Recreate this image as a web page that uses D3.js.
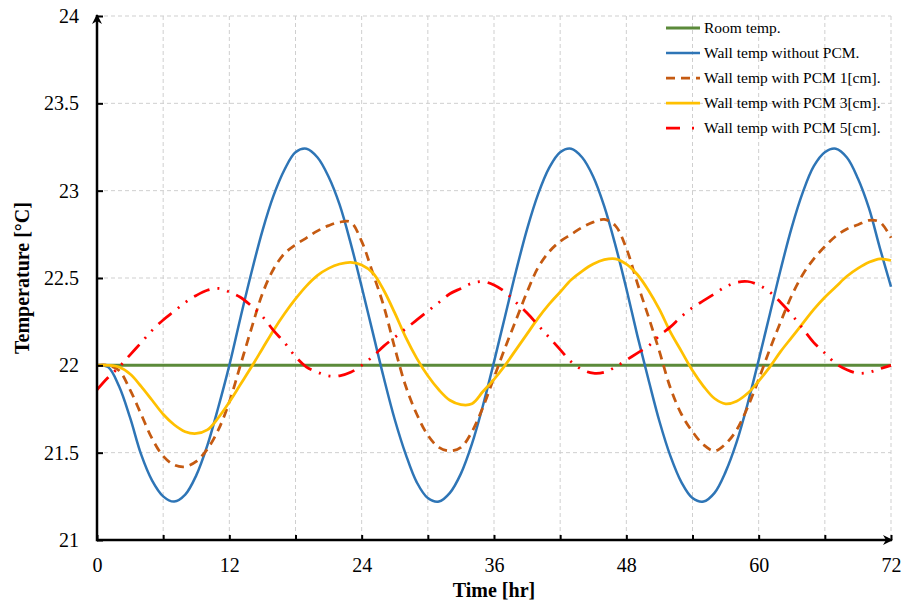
<!DOCTYPE html>
<html>
<head>
<meta charset="utf-8">
<title>Wall temperature with PCM</title>
<script src="https://cdn.jsdelivr.net/npm/d3@7/dist/d3.min.js"></script>
<style>
    body { margin: 0; background: #fff; }
    svg text { font-family: "Liberation Serif", "Times New Roman", serif; fill: #000; }
    .grid line { stroke: #cfcfcf; stroke-width: 1; stroke-dasharray: 4,3; }
    .axis .tick line { stroke: #000; stroke-width: 2; }
    .axis path.domain { stroke: none; }
    .axis text { font-size: 20px; }
    path.series { fill: none; }
</style>
</head>
<body>
<script>
var hours = [0, 1, 2, 3, 4, 5, 6, 7, 8, 9, 10, 11, 12, 13, 14, 15, 16, 17, 18, 19, 20, 21, 22, 23, 24,
    25, 26, 27, 28, 29, 30, 31, 32, 33, 34, 35, 36, 37, 38, 39, 40, 41, 42, 43, 44, 45, 46, 47, 48,
    49, 50, 51, 52, 53, 54, 55, 56, 57, 58, 59, 60, 61, 62, 63, 64, 65, 66, 67, 68, 69, 70, 71, 72];

var roomHours = [0, 72];
var roomTemp = [22, 22];

var wallNoPcm = [22.00, 21.99, 21.88, 21.70, 21.49, 21.34, 21.25, 21.22, 21.26, 21.37, 21.54, 21.76,
    22.00, 22.27, 22.53, 22.77, 22.97, 23.12, 23.22, 23.24, 23.19, 23.08, 22.92, 22.70, 22.45,
    22.19, 21.93, 21.69, 21.49, 21.33, 21.24, 21.22, 21.27, 21.38, 21.55, 21.77, 22.02,
    22.28, 22.54, 22.78, 22.98, 23.13, 23.22, 23.24, 23.19, 23.08, 22.91, 22.69, 22.44,
    22.17, 21.92, 21.68, 21.48, 21.33, 21.24, 21.22, 21.27, 21.39, 21.56, 21.78, 22.03,
    22.29, 22.55, 22.79, 22.99, 23.14, 23.22, 23.24, 23.19, 23.07, 22.90, 22.67, 22.45];

var wallPcm1 = [22.00, 22.00, 21.97, 21.86, 21.72, 21.58, 21.48, 21.43, 21.42, 21.45, 21.52, 21.63,
    21.79, 22.00, 22.21, 22.41, 22.55, 22.64, 22.69, 22.73, 22.77, 22.80, 22.82, 22.82, 22.71,
    22.53, 22.34, 22.10, 21.88, 21.72, 21.60, 21.53, 21.51, 21.53, 21.62, 21.76, 21.93,
    22.10, 22.26, 22.42, 22.56, 22.65, 22.71, 22.75, 22.79, 22.82, 22.835, 22.80, 22.67,
    22.47, 22.28, 22.08, 21.87, 21.72, 21.62, 21.545, 21.51, 21.55, 21.63, 21.76, 21.92,
    22.09, 22.25, 22.40, 22.52, 22.61, 22.68, 22.74, 22.78, 22.805, 22.83, 22.82, 22.73];

var wallPcm3 = [22.00, 22.00, 21.99, 21.95, 21.88, 21.80, 21.72, 21.66, 21.62, 21.61, 21.63, 21.70,
    21.79, 21.89, 21.99, 22.095, 22.20, 22.295, 22.38, 22.455, 22.515, 22.555, 22.58, 22.59, 22.575,
    22.53, 22.43, 22.30, 22.16, 22.04, 21.94, 21.86, 21.80, 21.775, 21.78, 21.85, 21.92,
    22.00, 22.09, 22.18, 22.27, 22.35, 22.42, 22.49, 22.54, 22.58, 22.605, 22.61, 22.58,
    22.52, 22.43, 22.32, 22.19, 22.08, 21.97, 21.88, 21.81, 21.78, 21.795, 21.84, 21.91,
    21.99, 22.08, 22.16, 22.24, 22.32, 22.39, 22.45, 22.51, 22.555, 22.59, 22.61, 22.60];

var wallPcm5 = [21.86, 21.93, 21.99, 22.06, 22.13, 22.20, 22.26, 22.31, 22.36, 22.40, 22.43, 22.44,
    22.42, 22.39, 22.34, 22.28, 22.20, 22.13, 22.05, 21.99, 21.96, 21.94, 21.94, 21.96, 22.00,
    22.05, 22.11, 22.16, 22.21, 22.26, 22.31, 22.36, 22.41, 22.44, 22.47, 22.48, 22.46,
    22.42, 22.36, 22.30, 22.23, 22.16, 22.09, 22.02, 21.975, 21.955, 21.96, 21.99, 22.03,
    22.07, 22.11, 22.17, 22.22, 22.28, 22.33, 22.37, 22.41, 22.45, 22.475, 22.48, 22.46,
    22.42, 22.36, 22.29, 22.21, 22.13, 22.07, 22.01, 21.975, 21.955, 21.96, 21.98, 22.00];

var xTicks = [0, 6, 12, 18, 24, 30, 36, 42, 48, 54, 60, 66, 72];
var yTicks = [21, 21.5, 22, 22.5, 23, 23.5, 24];

var seriesNames = ["Room temp.", "Wall temp without PCM.", "Wall temp with PCM 1[cm].",
    "Wall temp with PCM 3[cm].", "Wall temp with PCM 5[cm]."];

var width = 904, height = 603,
    margins = {top: 16, left: 97, right: 13, bottom: 63};

var innerW = width - margins.left - margins.right,
    innerH = height - margins.top - margins.bottom;

var x = d3.scaleLinear().domain([0, 72]).range([0, innerW]);
var y = d3.scaleLinear().domain([21, 24]).range([innerH, 0]);

var styles = [
    {color: "#5b8a3a", width: 3, dash: null},
    {color: "#2e75b6", width: 2.5, dash: null},
    {color: "#c55a11", width: 2.75, dash: "9,6"},
    {color: "#ffc000", width: 2.75, dash: null},
    {color: "#ff0000", width: 2.75, dash: "17,8,2,8,2,8"}
];

var series = [
    {xs: roomHours, ys: roomTemp},
    {xs: hours, ys: wallNoPcm},
    {xs: hours, ys: wallPcm1},
    {xs: hours, ys: wallPcm3},
    {xs: hours, ys: wallPcm5}
];

var svg = d3.select("body").append("svg")
    .attr("width", width)
    .attr("height", height);

var defs = svg.append("defs");
defs.append("marker")
    .attr("id", "arrow")
    .attr("viewBox", "0 0 10 10")
    .attr("refX", 9)
    .attr("refY", 5)
    .attr("markerWidth", 4)
    .attr("markerHeight", 4)
    .attr("markerUnits", "strokeWidth")
    .attr("orient", "auto")
    .append("path")
    .attr("d", "M0,0 L10,5 L0,10 L3,5 z")
    .attr("fill", "#000");

var g = svg.append("g")
    .attr("transform", "translate(" + margins.left + "," + margins.top + ")");

// grid
var grid = g.append("g").attr("class", "grid");
grid.selectAll("line.v")
    .data(xTicks.slice(1))
    .enter().append("line")
    .attr("class", "v")
    .attr("x1", function (d) { return x(d); })
    .attr("x2", function (d) { return x(d); })
    .attr("y1", 0)
    .attr("y2", innerH);
grid.selectAll("line.h")
    .data(yTicks.slice(1))
    .enter().append("line")
    .attr("class", "h")
    .attr("x1", 0)
    .attr("x2", innerW)
    .attr("y1", function (d) { return y(d); })
    .attr("y2", function (d) { return y(d); });

// series
var line = d3.line()
    .curve(d3.curveCatmullRom.alpha(0.5))
    .x(function (d) { return x(d[0]); })
    .y(function (d) { return y(d[1]); });

series.forEach(function (s, i) {
    var pts = s.xs.map(function (t, j) { return [t, s.ys[j]]; });
    g.append("path")
        .attr("class", "series")
        .attr("d", line(pts))
        .attr("stroke", styles[i].color)
        .attr("stroke-width", styles[i].width)
        .attr("stroke-dasharray", styles[i].dash);
});

// axes
var xAxis = d3.axisBottom(x)
    .tickValues(xTicks)
    .tickSize(-5)
    .tickPadding(18)
    .tickFormat(function (d) { return d % 12 === 0 ? d : ""; });

var yAxis = d3.axisLeft(y)
    .tickValues(yTicks)
    .tickSize(-6)
    .tickPadding(18)
    .tickFormat(function (d) { return d; });

g.append("g")
    .attr("class", "x axis")
    .attr("transform", "translate(0," + innerH + ")")
    .call(xAxis);

g.append("g")
    .attr("class", "y axis")
    .call(yAxis);

g.append("line")
    .attr("x1", 0).attr("y1", innerH)
    .attr("x2", innerW + 1).attr("y2", innerH)
    .attr("stroke", "#000")
    .attr("stroke-width", 2.5)
    .attr("marker-end", "url(#arrow)");

g.append("line")
    .attr("x1", 0).attr("y1", innerH + 1.25)
    .attr("x2", 0).attr("y2", -1)
    .attr("stroke", "#000")
    .attr("stroke-width", 2.5)
    .attr("marker-end", "url(#arrow)");

// axis titles
svg.append("text")
    .attr("x", margins.left + innerW / 2)
    .attr("y", 597)
    .attr("text-anchor", "middle")
    .style("font-size", "20px")
    .style("font-weight", "bold")
    .text("Time [hr]");

svg.append("text")
    .attr("transform", "translate(29," + (margins.top + innerH / 2) + ") rotate(-90)")
    .attr("text-anchor", "middle")
    .style("font-size", "20px")
    .style("font-weight", "bold")
    .text("Temperature [°C]");

// legend
var legend = svg.append("g")
    .attr("transform", "translate(666,28)");

var items = legend.selectAll("g.item")
    .data(seriesNames)
    .enter().append("g")
    .attr("class", "item")
    .attr("transform", function (d, i) { return "translate(0," + (i * 25) + ")"; });

items.append("line")
    .attr("x1", 0).attr("x2", 34)
    .attr("y1", 0).attr("y2", 0)
    .attr("stroke", function (d, i) { return styles[i].color; })
    .attr("stroke-width", function (d, i) { return styles[i].width; })
    .attr("stroke-dasharray", function (d, i) { return i === 4 ? "14,12,2,8" : styles[i].dash; });

items.append("text")
    .attr("x", 38)
    .attr("y", 0)
    .attr("dy", "0.33em")
    .style("font-size", "15.5px")
    .text(function (d) { return d; });
</script>
</body>
</html>
